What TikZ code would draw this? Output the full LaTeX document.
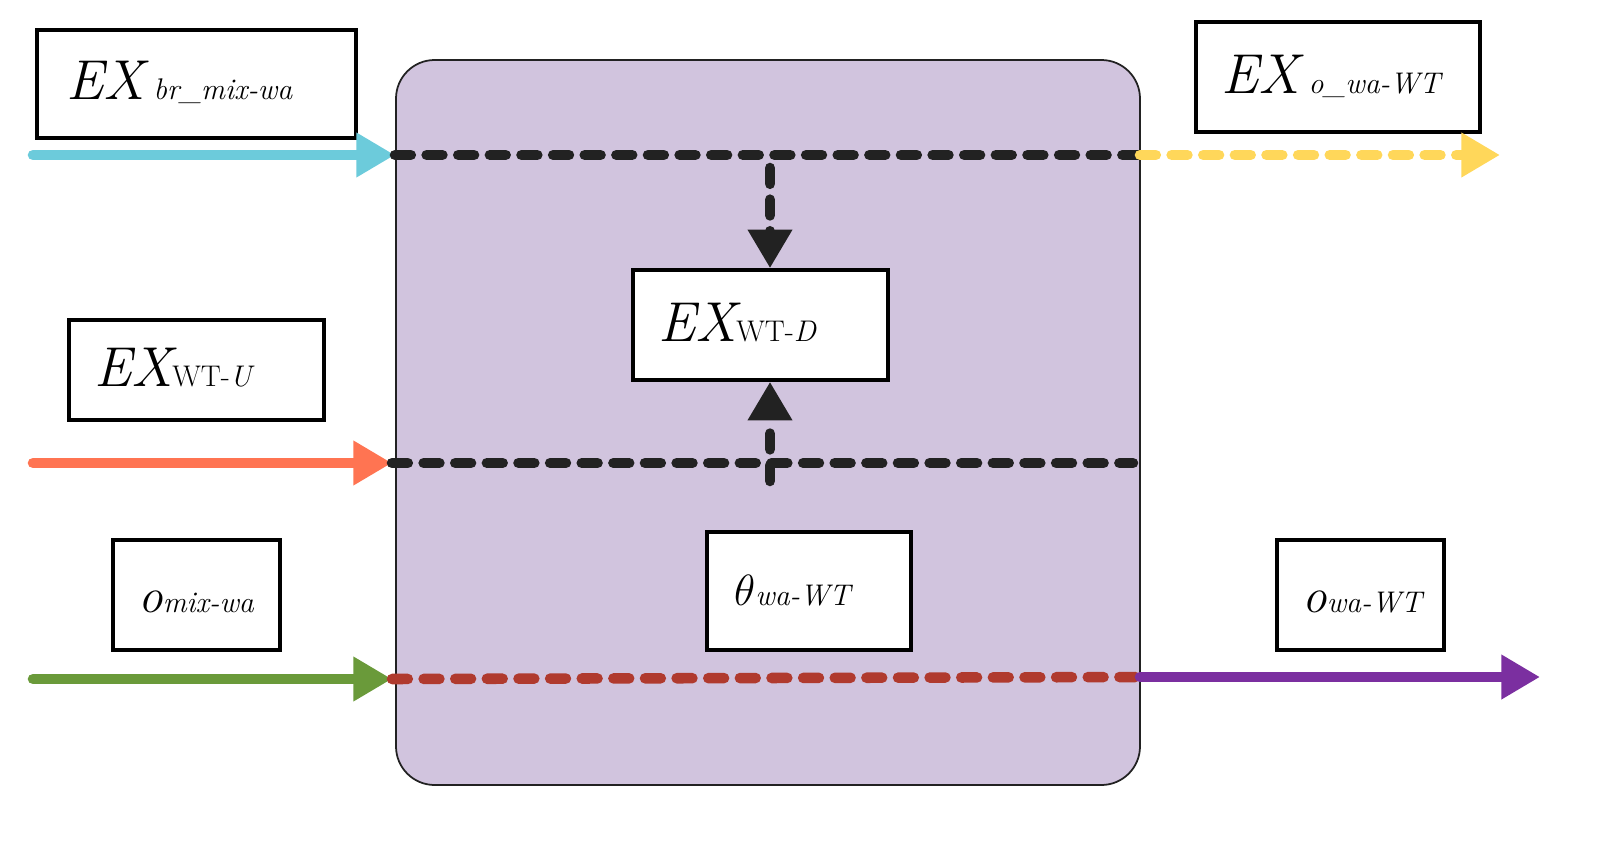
\documentclass[tikz,border=0pt]{standalone}
\usetikzlibrary{arrows.meta}
\definecolor{bg}{HTML}{D1C4DE}
\definecolor{cy}{HTML}{6CCBDB}
\definecolor{ye}{HTML}{FFD75A}
\definecolor{orr}{HTML}{FF7452}
\definecolor{gr}{HTML}{6A9A3A}
\definecolor{rd}{HTML}{B03A2E}
\definecolor{pu}{HTML}{7B2FA0}
\definecolor{dk}{HTML}{222222}
\begin{document}
\begin{tikzpicture}[x=0.02cm,y=-0.02cm,
 box/.style={draw=black,line width=2pt,fill=white,inner sep=0},
 big/.style={font=\fontsize{32}{36}\selectfont\itshape},
 sm/.style={font=\fontsize{17}{20}\selectfont\itshape},
 solid arr/.style={line width=6pt,line cap=round,-{Triangle[length=22pt,width=24pt]}},
 dsh/.style={line width=6pt,line cap=round,dash pattern=on 9pt off 9pt},
 dsharr/.style={dsh,-{Triangle[length=22pt,width=24pt]}}]
\useasboundingbox (0,0) rectangle (1612,848);
\node[draw=dk,line width=1pt,fill=bg,rounded corners=22pt,minimum width=744*0.02cm,minimum height=725*0.02cm,inner sep=0] (main) at (768,422.5) {};
% boxes
\node[box,minimum width=319*0.02cm,minimum height=108*0.02cm] (b1) at (196.5,84) {};
\node[anchor=base west] (t1) at (60,100) {\fontsize{32}{36}\selectfont\itshape EX\,\fontsize{17}{20}\selectfont br\_mix-wa};
\node[box,minimum width=284*0.02cm,minimum height=110*0.02cm] (b2) at (1338,77) {};
\node[anchor=base west] (t2) at (1215,93) {\fontsize{32}{36}\selectfont\itshape EX\,\fontsize{17}{20}\selectfont o\_wa-WT};
\node[box,minimum width=255*0.02cm,minimum height=110*0.02cm] (b3) at (760.5,325) {};
\node[anchor=base west] (t3) at (652,341) {\fontsize{32}{36}\selectfont\itshape EX{\fontsize{17}{20}\selectfont\upshape WT-\itshape D}};
\node[box,minimum width=255*0.02cm,minimum height=100*0.02cm] (b4) at (196.5,370) {};
\node[anchor=base west] (t4) at (88,386) {\fontsize{32}{36}\selectfont\itshape EX{\fontsize{17}{20}\selectfont\upshape WT-\itshape U}};
\node[box,minimum width=167*0.02cm,minimum height=110*0.02cm] (b5) at (196.5,595) {};
\node[anchor=base west] (t5) at (132,612) {\fontsize{28}{32}\selectfont\itshape o{\fontsize{17}{20}\selectfont mix-wa}};
\node[box,minimum width=204*0.02cm,minimum height=118*0.02cm] (b6) at (809,591) {};
\node[anchor=base west] (t6) at (728,605) {\fontsize{30}{34}\selectfont$\theta$\fontsize{17}{20}\selectfont\itshape wa-WT};
\node[box,minimum width=167*0.02cm,minimum height=110*0.02cm] (b7) at (1360.5,595) {};
\node[anchor=base west] (t7) at (1296,612) {\fontsize{28}{32}\selectfont\itshape o{\fontsize{17}{20}\selectfont wa-WT}};
% coordinates
\coordinate (a1) at (33,155); \coordinate (a2) at (395,155); \coordinate (a3) at (1140,155); \coordinate (a4) at (1500,155);
\coordinate (c1) at (33,463); \coordinate (c2) at (392,463); \coordinate (c3) at (1133,463);
\coordinate (g1) at (33,679); \coordinate (g2) at (392,679); \coordinate (g3) at (1140,677); \coordinate (g4) at (1540,677);
\coordinate (v1) at (770,168); \coordinate (v2) at (770,481);
\draw[solid arr,cy] (a1) -- (a2);
\draw[dsh,dk] (a2) -- (a3);
\draw[dsharr,ye] (a3) -- (a4);
\draw[dsharr,dk] (v1) -- (b3.north -| v1);
\draw[solid arr,orr] (c1) -- (c2);
\draw[dsh,dk] (c2) -- (c3);
\draw[dsharr,dk] (v2) -- (b3.south -| v2);
\draw[solid arr,gr] (g1) -- (g2);
\draw[dsh,rd] (g2) -- (g3);
\draw[solid arr,pu] (g3) -- (g4);
\end{tikzpicture}
\end{document}
